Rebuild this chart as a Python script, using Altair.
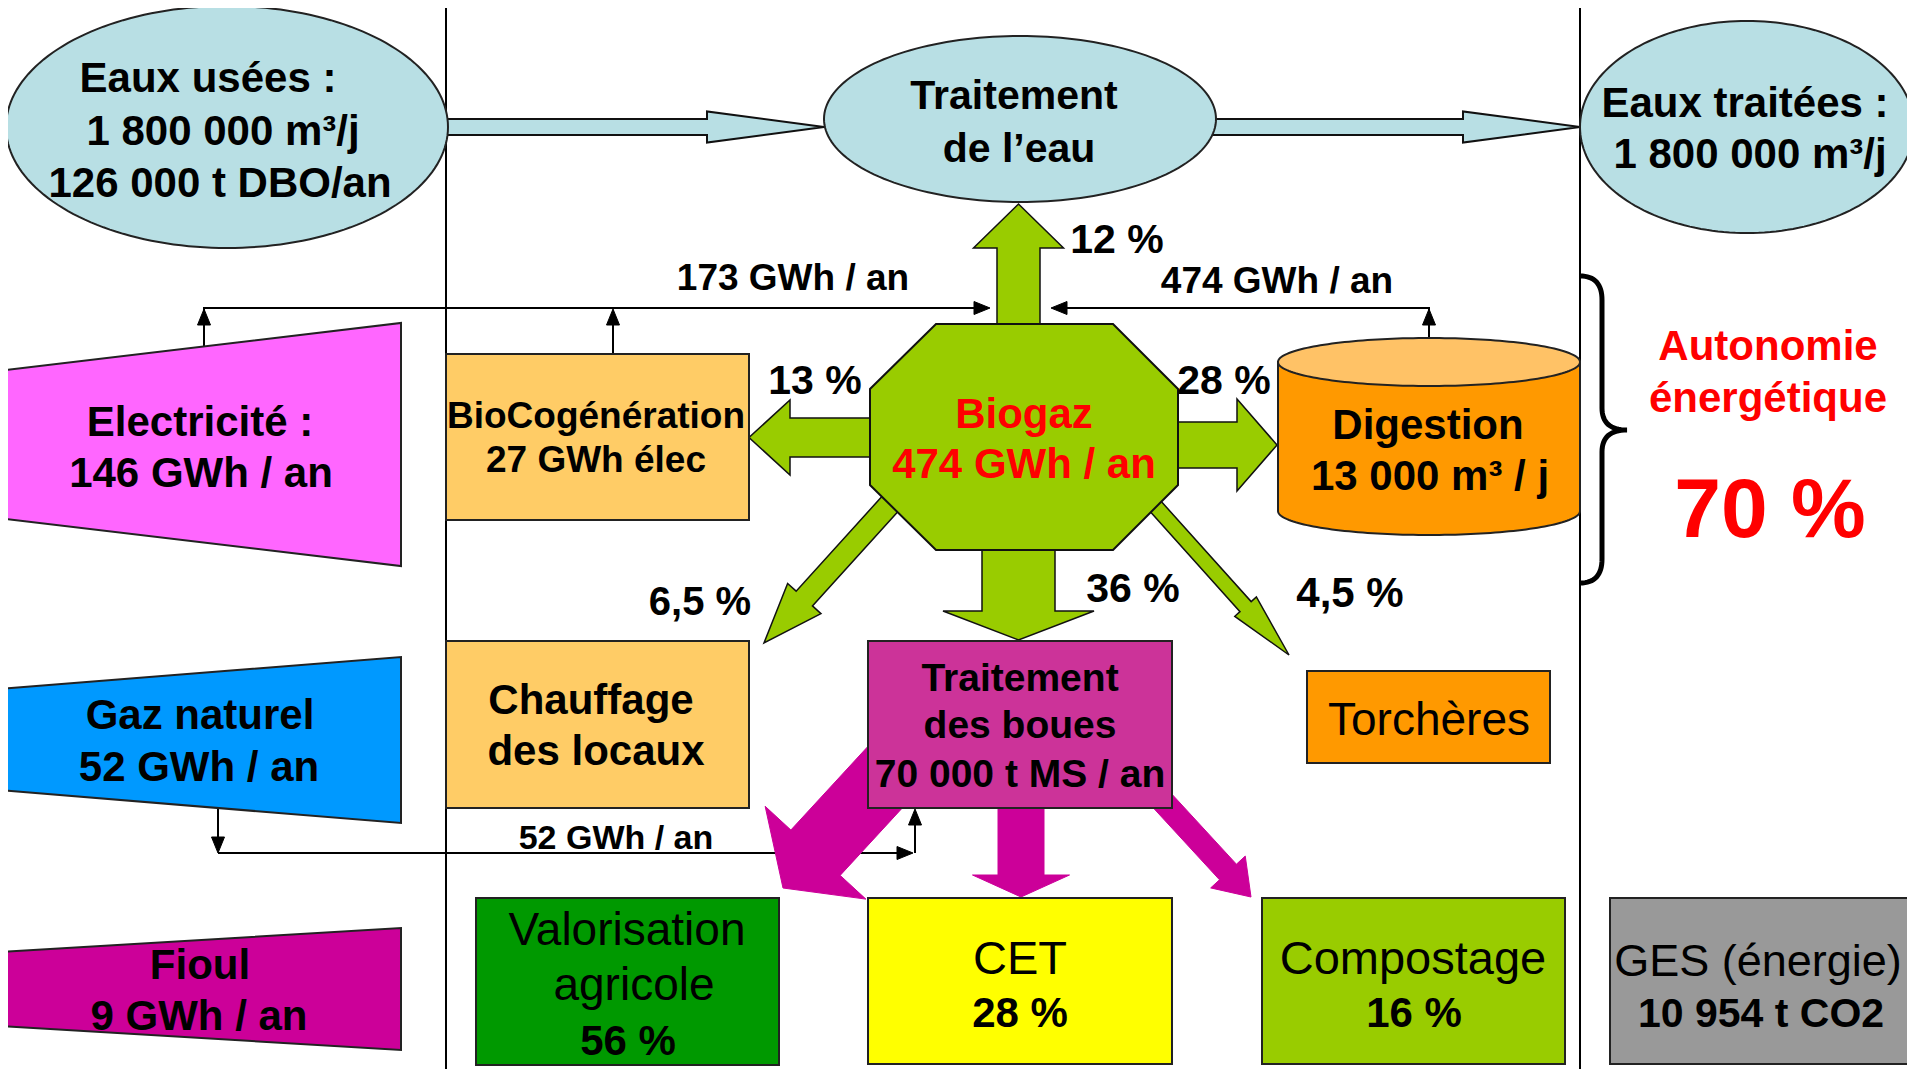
import math
import altair as alt

# ------------------------------------------------------------------
# Text content of the diagram (bold black, red, regular)
# ------------------------------------------------------------------
bold_text = [
    "Eaux usées :", "1 800 000 m³/j", "126 000 t DBO/an",
    "Traitement", "de l’eau",
    "Eaux traitées :", "1 800 000 m³/j",
    "12 %", "173 GWh / an", "474 GWh / an",
    "13 %", "28 %",
    "BioCogénération", "27 GWh élec",
    "Digestion", "13 000 m³ / j",
    "Electricité :", "146 GWh / an",
    "6,5 %", "36 %", "4,5 %",
    "Traitement", "des boues", "70 000 t MS / an",
    "Gaz naturel", "52 GWh / an",
    "Chauffage", "des locaux",
    "52 GWh / an",
    "Fioul", "9 GWh / an",
    "56 %", "28 %", "16 %", "10 954 t CO2",
]
bold_pos = [
    (208, 92, 42), (223, 145, 42), (220, 197, 42),
    (1014, 109, 41), (1019, 162, 41),
    (1745, 117, 42), (1750, 168, 42),
    (1117, 253, 41), (793, 290, 37), (1277, 293, 37),
    (815, 394, 41), (1224, 394, 41),
    (596, 428, 37), (596, 472, 37),
    (1428, 439, 42), (1430, 490, 42),
    (200, 436, 42), (201, 487, 42),
    (700, 615, 40), (1133, 602, 41), (1350, 607, 42),
    (1020, 691, 39), (1020, 738, 39), (1020, 787, 39),
    (200, 729, 42), (199, 781, 42),
    (591, 714, 42), (596, 765, 42),
    (616, 849, 34),
    (200, 979, 42), (199, 1030, 42),
    (628, 1055, 42), (1020, 1027, 42), (1414, 1027, 42), (1761, 1027, 41),
]
red_text = ["Biogaz", "474 GWh / an", "Autonomie", "énergétique", "70 %"]
red_pos = [(1024, 428, 42), (1024, 478, 42), (1768, 360, 42), (1768, 412, 42), (1770, 537, 84)]
regular_text = ["Torchères", "Valorisation", "agricole", "CET", "Compostage", "GES (énergie)"]
regular_pos = [(1429, 735, 46), (627, 945, 46), (634, 1000, 46), (1020, 974, 47), (1413, 974, 47), (1758, 976, 45)]

# ------------------------------------------------------------------
# Shapes (layout in screen pixels)
# ------------------------------------------------------------------
ELL_FILL = "#b8dfe4"
GREEN = "#99cc00"
MAGENTA = "#cc0099"

ellipses = [  # cx, cy, rx, ry
    (227, 127, 221, 121),
    (1020, 119, 196, 83),
    (1747, 127, 167, 106),
]
boxes = [  # x0, x1, y0, y1, fill
    (446, 749, 354, 520, "#ffcc66"),   # BioCogénération
    (446, 749, 641, 808, "#ffcc66"),   # Chauffage
    (868, 1172, 641, 808, "#cc3399"),  # Traitement des boues
    (1307, 1550, 671, 763, "#ff9900"), # Torchères
    (476, 779, 898, 1065, "#009900"),  # Valorisation
    (868, 1172, 898, 1064, "#ffff00"), # CET
    (1262, 1565, 898, 1064, "#99cc00"),# Compostage
    (1610, 1913, 898, 1064, "#999999"),# GES
]
trapezoids = [  # left top, left bottom, right top, right bottom, fill
    (371, 518, 323, 566, "#ff66ff"),
    (689, 790, 657, 823, "#0099ff"),
    (952, 1026, 928, 1050, "#cc0099"),
]
octagon = [(936, 324), (1113, 324), (1178, 389), (1178, 485),
           (1113, 550), (936, 550), (870, 485), (870, 389)]
# arrows: start, tip, shaft width, head width, head length
blue_arrows = [((430, 127), (824, 127), 16, 31, 117),
               ((1205, 127), (1580, 127), 16, 31, 117)]
green_arrows = [((1018.5, 340), (1018.5, 204), 43, 90, 44),
                ((890, 437.5), (749, 437.5), 39, 75, 41),
                ((1160, 445), (1277, 445), 46, 92, 40),
                ((1018.5, 530), (1018.5, 640), 73, 151, 29),
                ((909, 483), (764, 643), 22, 45, 60),
                ((1140, 489), (1289, 655), 15, 29, 65)]
magenta_arrows = [((1021, 790), (1021, 897), 46, 97, 22),
                  ((912, 748), (783, 888), 67, 137, 48),
                  ((1146, 783), (1251, 897), 23, 47, 34)]
thin_paths = [
    [(204, 347), (204, 308), (976, 308)],
    [(613, 354), (613, 322)],
    [(1429, 338), (1429, 308), (1066, 308)],
    [(218, 808), (218, 840)],
    [(218, 853), (900, 853)],
    [(915, 853), (915, 822)],
]
thin_heads = [  # tip, direction
    ((204, 309), (0, -1)), ((990, 308), (1, 0)), ((613, 309), (0, -1)),
    ((1429, 309), (0, -1)), ((1051, 308), (-1, 0)),
    ((218, 853), (0, 1)), ((913, 853), (1, 0)), ((915, 809), (0, -1)),
]
frame = [[(1580, 1090), (1580, 6), (446, 6), (446, 1090)]]


def ring(pts):
    pts = [[float(x), float(y)] for x, y in pts]
    return pts + [pts[0]]


def poly(pts, fill, stroke, sw):
    return {"type": "Feature",
            "geometry": {"type": "Polygon", "coordinates": [ring(pts)]},
            "properties": {"fill": fill, "stroke": stroke, "sw": sw}}


def line(pts):
    return {"type": "Feature",
            "geometry": {"type": "LineString",
                         "coordinates": [[float(x), float(y)] for x, y in pts]},
            "properties": {}}


def ellipse_pts(cx, cy, rx, ry, n=180, a0=0.0, a1=2 * math.pi, closed=True):
    m = n if closed else n + 1
    return [(cx + rx * math.cos(a0 + (a1 - a0) * i / n),
             cy + ry * math.sin(a0 + (a1 - a0) * i / n)) for i in range(m)]


def arrow(p0, p1, shaft, head, hl):
    (x0, y0), (x1, y1) = p0, p1
    L = math.hypot(x1 - x0, y1 - y0)
    ux, uy = (x1 - x0) / L, (y1 - y0) / L
    px, py = -uy, ux
    bx, by = x1 - ux * hl, y1 - uy * hl
    s, h = shaft / 2, head / 2
    return [(x0 + px * s, y0 + py * s), (bx + px * s, by + py * s),
            (bx + px * h, by + py * h), (x1, y1),
            (bx - px * h, by - py * h), (bx - px * s, by - py * s),
            (x0 - px * s, y0 - py * s)]


def small_head(tip, d, length=16, width=13):
    x, y = tip
    dx, dy = d
    bx, by = x - dx * length, y - dy * length
    px, py = -dy, dx
    return [(x, y), (bx + px * width / 2, by + py * width / 2),
            (bx - px * width / 2, by - py * width / 2)]


def qbez(p0, c, p1, n=16):
    return [((1 - t) ** 2 * p0[0] + 2 * (1 - t) * t * c[0] + t * t * p1[0],
             (1 - t) ** 2 * p0[1] + 2 * (1 - t) * t * c[1] + t * t * p1[1])
            for t in [i / n for i in range(n + 1)]]


# ---- feature collections ----
arrow_feats = []
for a in blue_arrows:
    arrow_feats.append(poly(arrow(*a), ELL_FILL, "#111111", 2))
for a in green_arrows:
    arrow_feats.append(poly(arrow(*a), GREEN, "#111111", 1.5))

shape_feats = [poly(ellipse_pts(*e), ELL_FILL, "#222222", 2) for e in ellipses]
shape_feats.append(poly(octagon, GREEN, "#111111", 2))

mag_feats = [poly(arrow(*a), MAGENTA, MAGENTA, 1) for a in magenta_arrows]

box_feats = []
for x0, x1, y0, y1, f in boxes:
    box_feats.append(poly([(x0, y0), (x1, y0), (x1, y1), (x0, y1)], f, "#222222", 2))
for lt, lb, rt, rb, f in trapezoids:
    box_feats.append(poly([(-2, lt), (401, rt), (401, rb), (-2, lb)], f, "#222222", 2))
# Digestion cylinder
cx, rx, ytop, ybot, ry = 1429, 151, 362, 511, 24
body = [(cx - rx, ytop)] + ellipse_pts(cx, ybot, rx, ry, n=90, a0=math.pi, a1=0.0, closed=False) + [(cx + rx, ytop)]
box_feats.append(poly(body, "#ff9900", "#222222", 2))
box_feats.append(poly(ellipse_pts(cx, ytop, rx, ry), "#ffc266", "#222222", 2))

head_feats = [poly(small_head(t, d), "#000000", "#000000", 1) for t, d in thin_heads]

line_feats = [line(p) for p in thin_paths]
frame_feats = [line(p) for p in frame]

brace = (qbez((1580, 276), (1602, 276), (1602, 300))
         + qbez((1602, 408), (1602, 430), (1627, 430))
         + qbez((1627, 430), (1602, 430), (1602, 452))
         + qbez((1602, 559), (1602, 583), (1580, 583)))
brace_feats = [line(brace)]


def rows(texts, pos, color):
    return [{"t": t, "x": p[0], "y": p[1], "fs": p[2], "c": color} for t, p in zip(texts, pos)]


PROJ = dict(type="identity", scale=1, translate=[-8, -8])


def polys(feats):
    return (alt.Chart(alt.Data(values=feats))
            .mark_geoshape()
            .encode(fill=alt.Fill("properties.fill:N", scale=None),
                    stroke=alt.Stroke("properties.stroke:N", scale=None),
                    strokeWidth=alt.StrokeWidth("properties.sw:Q", scale=None))
            .project(**PROJ))


def lines(feats, sw):
    return (alt.Chart(alt.Data(values=feats))
            .mark_geoshape(filled=False, stroke="#000000", strokeWidth=sw)
            .project(**PROJ))


def texts(data, weight):
    return (alt.Chart(alt.Data(values=data))
            .mark_text(font="Liberation Sans", fontWeight=weight,
                       align="center", baseline="alphabetic")
            .encode(longitude="x:Q", latitude="y:Q", text="t:N",
                    size=alt.Size("fs:Q", scale=None),
                    color=alt.Color("c:N", scale=None))
            .project(**PROJ))


chart = alt.layer(
    lines(frame_feats, 2),
    lines(line_feats, 2),
    polys(head_feats),
    polys(arrow_feats),
    polys(shape_feats),
    polys(mag_feats),
    polys(box_feats),
    lines(brace_feats, 5),
    texts(rows(bold_text, bold_pos, "#000000"), "bold"),
    texts(rows(red_text, red_pos, "#ff0000"), "bold"),
    texts(rows(regular_text, regular_pos, "#000000"), "normal"),
).properties(
    width=1899, height=1061, padding=0, autosize="none", background="white"
).configure_view(stroke=None)

chart.save("out.html", embed_options={"renderer": "svg", "actions": False})
